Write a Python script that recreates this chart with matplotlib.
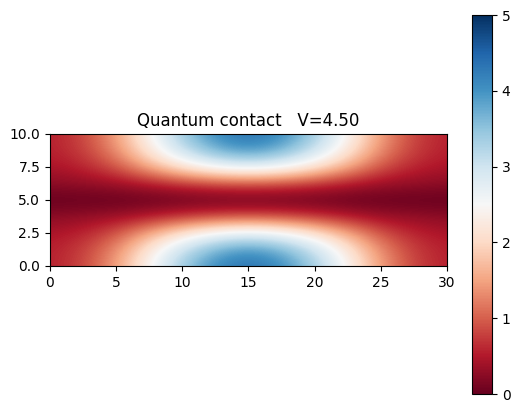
import numpy as np
import matplotlib
matplotlib.use("Agg")
import matplotlib.pyplot as plt

# grid nodes
x_nodes = [0, 2.5, 5, 7.5, 10, 12.5, 15, 17.5, 20, 22.5, 25, 27.5, 30]
y_nodes = [0, 1.25, 2.5, 3.75, 5, 6.25, 7.5, 8.75, 10]

row_y00 = [0.55, 0.80, 1.45, 2.45, 3.40, 4.10, 4.40, 4.10, 3.40, 2.45, 1.45, 0.80, 0.55]
row_y12 = [0.55, 0.75, 1.31, 2.21, 3.06, 3.69, 3.96, 3.69, 3.06, 2.21, 1.31, 0.75, 0.55]
row_y25 = [0.45, 0.58, 0.91, 1.54, 2.14, 2.58, 2.77, 2.58, 2.14, 1.54, 0.91, 0.58, 0.45]
row_y37 = [0.25, 0.30, 0.36, 0.51, 0.71, 0.86, 0.92, 0.86, 0.71, 0.51, 0.36, 0.30, 0.25]
row_y50 = [0.00, 0.00, 0.00, 0.00, 0.00, 0.00, 0.00, 0.00, 0.00, 0.00, 0.00, 0.00, 0.00]
row_y62 = [0.25, 0.30, 0.36, 0.51, 0.71, 0.86, 0.92, 0.86, 0.71, 0.51, 0.36, 0.30, 0.25]
row_y75 = [0.45, 0.58, 0.91, 1.54, 2.14, 2.58, 2.77, 2.58, 2.14, 1.54, 0.91, 0.58, 0.45]
row_y87 = [0.55, 0.75, 1.31, 2.21, 3.06, 3.69, 3.96, 3.69, 3.06, 2.21, 1.31, 0.75, 0.55]
row_y100 = [0.55, 0.80, 1.45, 2.45, 3.40, 4.10, 4.40, 4.10, 3.40, 2.45, 1.45, 0.80, 0.55]

V = 4.50
title = f"Quantum contact   V={V:.2f}"

field = np.array([row_y00, row_y12, row_y25, row_y37, row_y50,
                  row_y62, row_y75, row_y87, row_y100])

fig = plt.figure(figsize=(5.19, 4.03), dpi=100)
ax = fig.add_axes([0.0963, 0.3400, 0.7649, 0.3275])
cax = fig.add_axes([0.9094, 0.0223, 0.0385, 0.9404])

# half-cell padding so that node values sit on the node coordinates
dx = (x_nodes[1] - x_nodes[0]) / 2
dy = (y_nodes[1] - y_nodes[0]) / 2
im = ax.imshow(field, origin="lower", cmap="RdBu", vmin=0, vmax=5,
               interpolation="bicubic", aspect="auto",
               extent=[x_nodes[0] - dx, x_nodes[-1] + dx,
                       y_nodes[0] - dy, y_nodes[-1] + dy])
ax.set_xlim(0, 30)
ax.set_ylim(0, 10)
ax.set_xticks([0, 5, 10, 15, 20, 25, 30])
ax.set_yticks([0, 2.5, 5, 7.5, 10])
ax.set_yticklabels(["0.0", "2.5", "5.0", "7.5", "10.0"])
ax.set_title(title, fontsize=12)

fig.colorbar(im, cax=cax)

fig.savefig("out.png", dpi=100)
